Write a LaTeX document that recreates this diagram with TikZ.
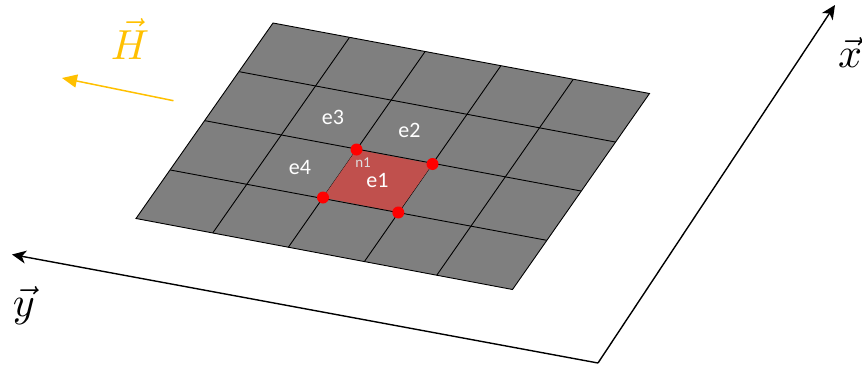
\documentclass[tikz,border=0pt]{standalone}
\usepackage{xcolor}
\usepackage{amsmath}
\usepackage{fontspec}
\setmainfont{Carlito}
\usetikzlibrary{arrows.meta,positioning}
\definecolor{meshgray}{HTML}{7F7F7F}
\definecolor{cellred}{HTML}{C0504D}
\definecolor{fieldyellow}{HTML}{FFC000}
\newcommand{\axisvec}[1]{\scalebox{4.2}{$\vec{#1}$}}

\begin{document}
\begin{tikzpicture}[
  x=1pt, y=-1pt,
  meshline/.style={draw=black, line width=0.9pt},
  axisarrow/.style={-{Stealth[length=14pt,width=13pt,inset=4pt]}, line width=1.4pt},
  fieldarrow/.style={-{Triangle[length=15pt,width=13pt]}, fieldyellow, line width=1.5pt},
  nodedot/.style={circle, fill=red, inner sep=0pt, minimum size=12pt},
  celllabel/.style={text=white, font=\fontsize{22}{24}\selectfont},
  axislabel/.style={inner sep=0pt}
]
\useasboundingbox (0,0) rectangle (862,367);

% mesh outline
\coordinate (nw) at (273,23);
\coordinate (ne) at (649.5,93.5);
\coordinate (se) at (512.5,289.5);
\coordinate (sw) at (136,218.5);
\coordinate (c1) at (356.5,149.5);
\coordinate (c2) at (432.5,164);
\coordinate (c3) at (398.3,212.5);
\coordinate (c4) at (323,197.5);
\fill[meshgray] (nw) -- (ne) -- (se) -- (sw) -- cycle;

% columns
\foreach \tx/\ty/\bx/\by in {349.3/37.7/212.7/233, 425/51.7/288.3/247.3, 500.7/66/364.3/261.7, 573.3/79.3/436.7/275.3}
  \draw[meshline] (\tx,\ty) -- (\bx,\by);
\fill[cellred] (c1) -- (c2) -- (c3) -- (c4) -- cycle;
% rows
\foreach \lx/\ly/\rx/\ry in {239.3/71.7/615.3/142, 205/120.7/581/191, 170.3/170/546.7/240.3}
  \draw[meshline] (\lx,\ly) -- (\rx,\ry);
\draw[meshline] (nw) -- (ne) -- (se) -- (sw) -- cycle;

\node[nodedot] (n1) at (c1) {};
\node[nodedot] (n2) at (c2) {};
\node[nodedot] (n3) at (c3) {};
\node[nodedot] (n4) at (c4) {};

\node[celllabel] (e1) at (377.5,180) {e1};
\node[celllabel] (e2) at (409.5,130) {e2};
\node[celllabel] (e3) at (333,117) {e3};
\node[celllabel] (e4) at (300,168) {e4};
\node[text=white!75!meshgray, font=\fontsize{15}{17}\selectfont] (n1label) at (363,162.5) {n1};

% axes
\coordinate (origin) at (598,363);
\coordinate (xtip) at (835,5);
\coordinate (ytip) at (12,254.5);
\draw[axisarrow] (origin) -- (xtip);
\draw[axisarrow] (origin) -- (ytip);
\node[axislabel] (xlabel) at (850,52) {\axisvec{x}};
\node[axislabel] (ylabel) at (24,306) {\axisvec{y}};

% applied field
\coordinate (hstart) at (173.5,100.7);
\coordinate (hend) at (62,78);
\draw[fieldarrow] (hstart) -- (hend);
\node[axislabel, text=fieldyellow] (hlabel) at (130,39) {\axisvec{H}};
\end{tikzpicture}
\end{document}
